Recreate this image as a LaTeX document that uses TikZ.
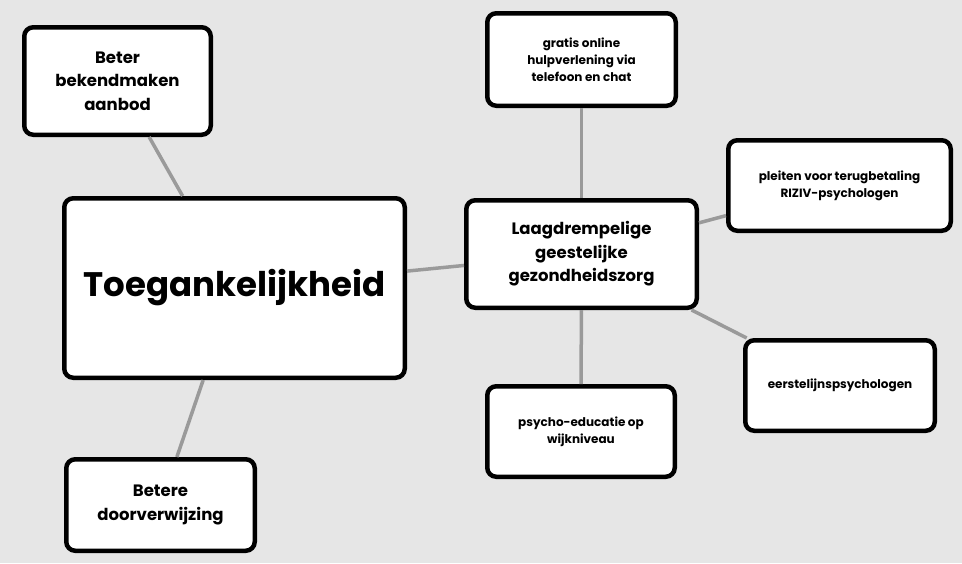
\documentclass[tikz,border=0pt]{standalone}
\usepackage{fontspec}
\setmainfont{Poppins}
\definecolor{bggray}{HTML}{E6E6E6}
\definecolor{linkgray}{HTML}{9A9A9A}
\begin{document}
\begin{tikzpicture}[x=1pt,y=-1pt,
  box/.style={draw=black, line width=4.5pt, fill=white, rounded corners=9pt,
    align=center, inner sep=0pt},
  link/.style={draw=linkgray, line width=3.5pt},
  huge/.style={font=\fontsize{34}{40}\selectfont\bfseries},
  big/.style={font=\fontsize{16.5}{23.5}\selectfont\bfseries},
  small/.style={font=\fontsize{12}{17}\selectfont\bfseries}]
\fill[bggray] (0,0) rectangle (962,563);
\useasboundingbox (0,0) rectangle (962,563);
\node[box, big, minimum width=186.5pt, minimum height=107.5pt] (beter) at (117.5,81) {Beter\\bekendmaken\\aanbod};
\node[box, huge, minimum width=340.5pt, minimum height=179.5pt] (toeg) at (234.5,288) {Toegankelijkheid};
\node[box, big, minimum width=188.5pt, minimum height=91.5pt] (betere) at (160.5,505) {Betere\\doorverwijzing};
\node[box, big, minimum width=230.5pt, minimum height=107.5pt] (laag) at (581.5,254) {Laagdrempelige\\geestelijke\\gezondheidszorg};
\node[box, small, minimum width=188.5pt, minimum height=92.5pt] (gratis) at (581.5,59.5) {gratis online\\hulpverlening via\\telefoon en chat};
\node[box, small, minimum width=222.5pt, minimum height=90.5pt] (pleiten) at (839.5,185.5) {pleiten voor terugbetaling\\RIZIV-psychologen};
\node[box, small, minimum width=189.5pt, minimum height=90.5pt] (eerst) at (840,385.5) {eerstelijnspsychologen};
\node[box, small, minimum width=187.5pt, minimum height=90.5pt] (psycho) at (581,431.5) {psycho-educatie op\\wijkniveau};
\draw[link] (beter) -- (toeg);
\draw[link] (toeg) -- (betere);
\draw[link] (toeg) -- (laag);
\draw[link] (laag) -- (gratis);
\draw[link] (laag) -- (pleiten);
\draw[link] (laag) -- (eerst);
\draw[link] (laag) -- (psycho);
\end{tikzpicture}
\end{document}
